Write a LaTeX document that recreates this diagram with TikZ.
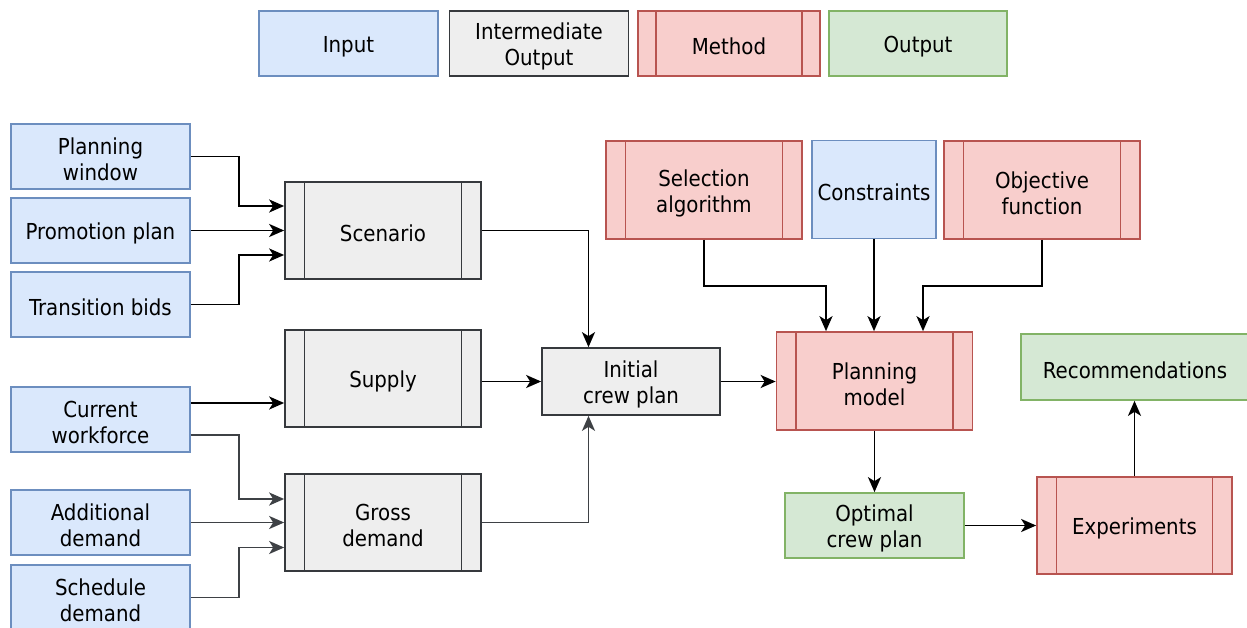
\documentclass[tikz,border=0pt]{standalone}
\usepackage{fontspec}
\setmainfont{DejaVu Sans Condensed}
\usetikzlibrary{arrows.meta,calc}

\definecolor{inFill}{HTML}{DAE8FC}
\definecolor{inLine}{HTML}{6C8EBF}
\definecolor{midFill}{HTML}{EEEEEE}
\definecolor{midLine}{HTML}{36393D}
\definecolor{metFill}{HTML}{F8CECC}
\definecolor{metLine}{HTML}{B85450}
\definecolor{outFill}{HTML}{D5E8D4}
\definecolor{outLine}{HTML}{82B366}
\definecolor{grayArrow}{HTML}{3E4145}

% invisible strut on the first line, so labels sit a little lower in their boxes
\newcommand\boxlift{\rule{0pt}{23pt}}

\tikzset{
  box/.style={rectangle, line width=1.7pt, align=center, inner sep=0pt,
    font=\fontsize{22}{26}\selectfont},
  inputbox/.style={box, draw=inLine, fill=inFill},
  midbox/.style={box, draw=midLine, fill=midFill},
  outbox/.style={box, draw=outLine, fill=outFill},
  sidebars/.style={path picture={
    \draw[#1, line width=1.7pt]
      ($(path picture bounding box.north west)!0.1!(path picture bounding box.north east)$) --
      ($(path picture bounding box.south west)!0.1!(path picture bounding box.south east)$)
      ($(path picture bounding box.north west)!0.9!(path picture bounding box.north east)$) --
      ($(path picture bounding box.south west)!0.9!(path picture bounding box.south east)$);}},
  midproc/.style={midbox, sidebars=midLine},
  metproc/.style={box, draw=metLine, fill=metFill, sidebars=metLine},
  link/.style={line width=1.9pt, -{Stealth[length=15pt,width=13pt,inset=4pt]}},
  glink/.style={link, draw=grayArrow},
}

\begin{document}
\begin{tikzpicture}[x=1pt, y=-1pt]
\useasboundingbox (0,0) rectangle (1247,628);

% legend
\node[inputbox, minimum width=179pt, minimum height=65pt] (legIn) at (348.5,43.5) {\boxlift Input};
\node[midbox, minimum width=179pt, minimum height=65pt] (legMid) at (539,43.5) {\boxlift Intermediate\\Output};
\node[metproc, minimum width=182pt, minimum height=65pt] (legMet) at (729,43.5) {\boxlift Method};
\node[outbox, minimum width=178pt, minimum height=65pt] (legOut) at (918,43.5) {\boxlift Output};

% inputs on the left
\node[inputbox, minimum width=179pt, minimum height=65pt] (pw) at (100.5,156.5) {\boxlift Planning\\window};
\node[inputbox, minimum width=179pt, minimum height=65pt] (pp) at (100.5,230.5) {\boxlift Promotion plan};
\node[inputbox, minimum width=179pt, minimum height=65pt] (tb) at (100.5,304.5) {\boxlift Transition bids};
\node[inputbox, minimum width=179pt, minimum height=65pt] (cw) at (100.5,419.5) {\boxlift Current\\workforce};
\node[inputbox, minimum width=179pt, minimum height=65pt] (ad) at (100.5,522.5) {\boxlift Additional\\demand};
\node[inputbox, minimum width=179pt, minimum height=65pt] (sd) at (100.5,597.5) {\boxlift Schedule\\demand};

% intermediate processes
\node[midproc, minimum width=196pt, minimum height=97pt] (scen) at (383,230.5) {\boxlift Scenario};
\node[midproc, minimum width=196pt, minimum height=97pt] (supp) at (383,378.5) {\boxlift Supply};
\node[midproc, minimum width=196pt, minimum height=97pt] (gross) at (383,522.5) {\boxlift Gross\\demand};
\node[midbox, minimum width=178pt, minimum height=67pt] (init) at (631,381.5) {\boxlift Initial\\crew plan};

% model and its ingredients
\node[metproc, minimum width=196pt, minimum height=98pt] (sel) at (704,190) {\boxlift Selection\\algorithm};
\node[inputbox, minimum width=124pt, minimum height=98pt] (con) at (874,189.5) {\boxlift Constraints};
\node[metproc, minimum width=196pt, minimum height=98pt] (obj) at (1042,190) {\boxlift Objective\\function};
\node[metproc, minimum width=196pt, minimum height=98pt] (pm) at (874.5,381) {\boxlift Planning\\model};

% results
\node[outbox, minimum width=179pt, minimum height=65pt] (opt) at (874.5,525.5) {\boxlift Optimal\\crew plan};
\node[metproc, minimum width=195pt, minimum height=97pt] (exp) at (1134.5,525.5) {\boxlift Experiments};
\node[outbox, minimum width=228pt, minimum height=66pt] (rec) at (1135,367) {\boxlift Recommendations};

% inputs into scenario
\draw[link] (pw.east) -- ++(48.5,0) |- ([yshift=24.5pt]scen.west);
\draw[link] (pp.east) -- (scen.west);
\draw[link] (tb.east) -- ++(48.5,0) |- ([yshift=-24.5pt]scen.west);

% workforce and demand
\draw[link] ([yshift=16.5pt]cw.east) -- ([yshift=-24.5pt]supp.west);
\draw[glink] ([yshift=-15.5pt]cw.east) -- ++(48.5,0) |- ([yshift=23.5pt]gross.west);
\draw[glink] (ad.east) -- (gross.west);
\draw[glink] (sd.east) -- ++(48.5,0) |- ([yshift=-25pt]gross.west);

% into the initial crew plan
\draw[link] (scen.east) -| ([xshift=-42.5pt]init.north);
\draw[link] (supp.east |- init.west) -- (init.west);
\draw[glink] (gross.east) -| ([xshift=-42.5pt]init.south);

% into the planning model
\draw[link] (init.east) -- (pm.west |- init.east);
\draw[link] (sel.south) -- ++(0,46) -| ([xshift=-48.5pt]pm.north);
\draw[link] (con.south) -- (con.south |- pm.north);
\draw[link] (obj.south) -- ++(0,46) -| ([xshift=48.5pt]pm.north);

% results chain
\draw[link] (pm.south) -- (opt.north);
\draw[link] (opt.east) -- (exp.west |- opt.east);
\draw[link] (exp.north) -- (exp.north |- rec.south);
\end{tikzpicture}
\end{document}
